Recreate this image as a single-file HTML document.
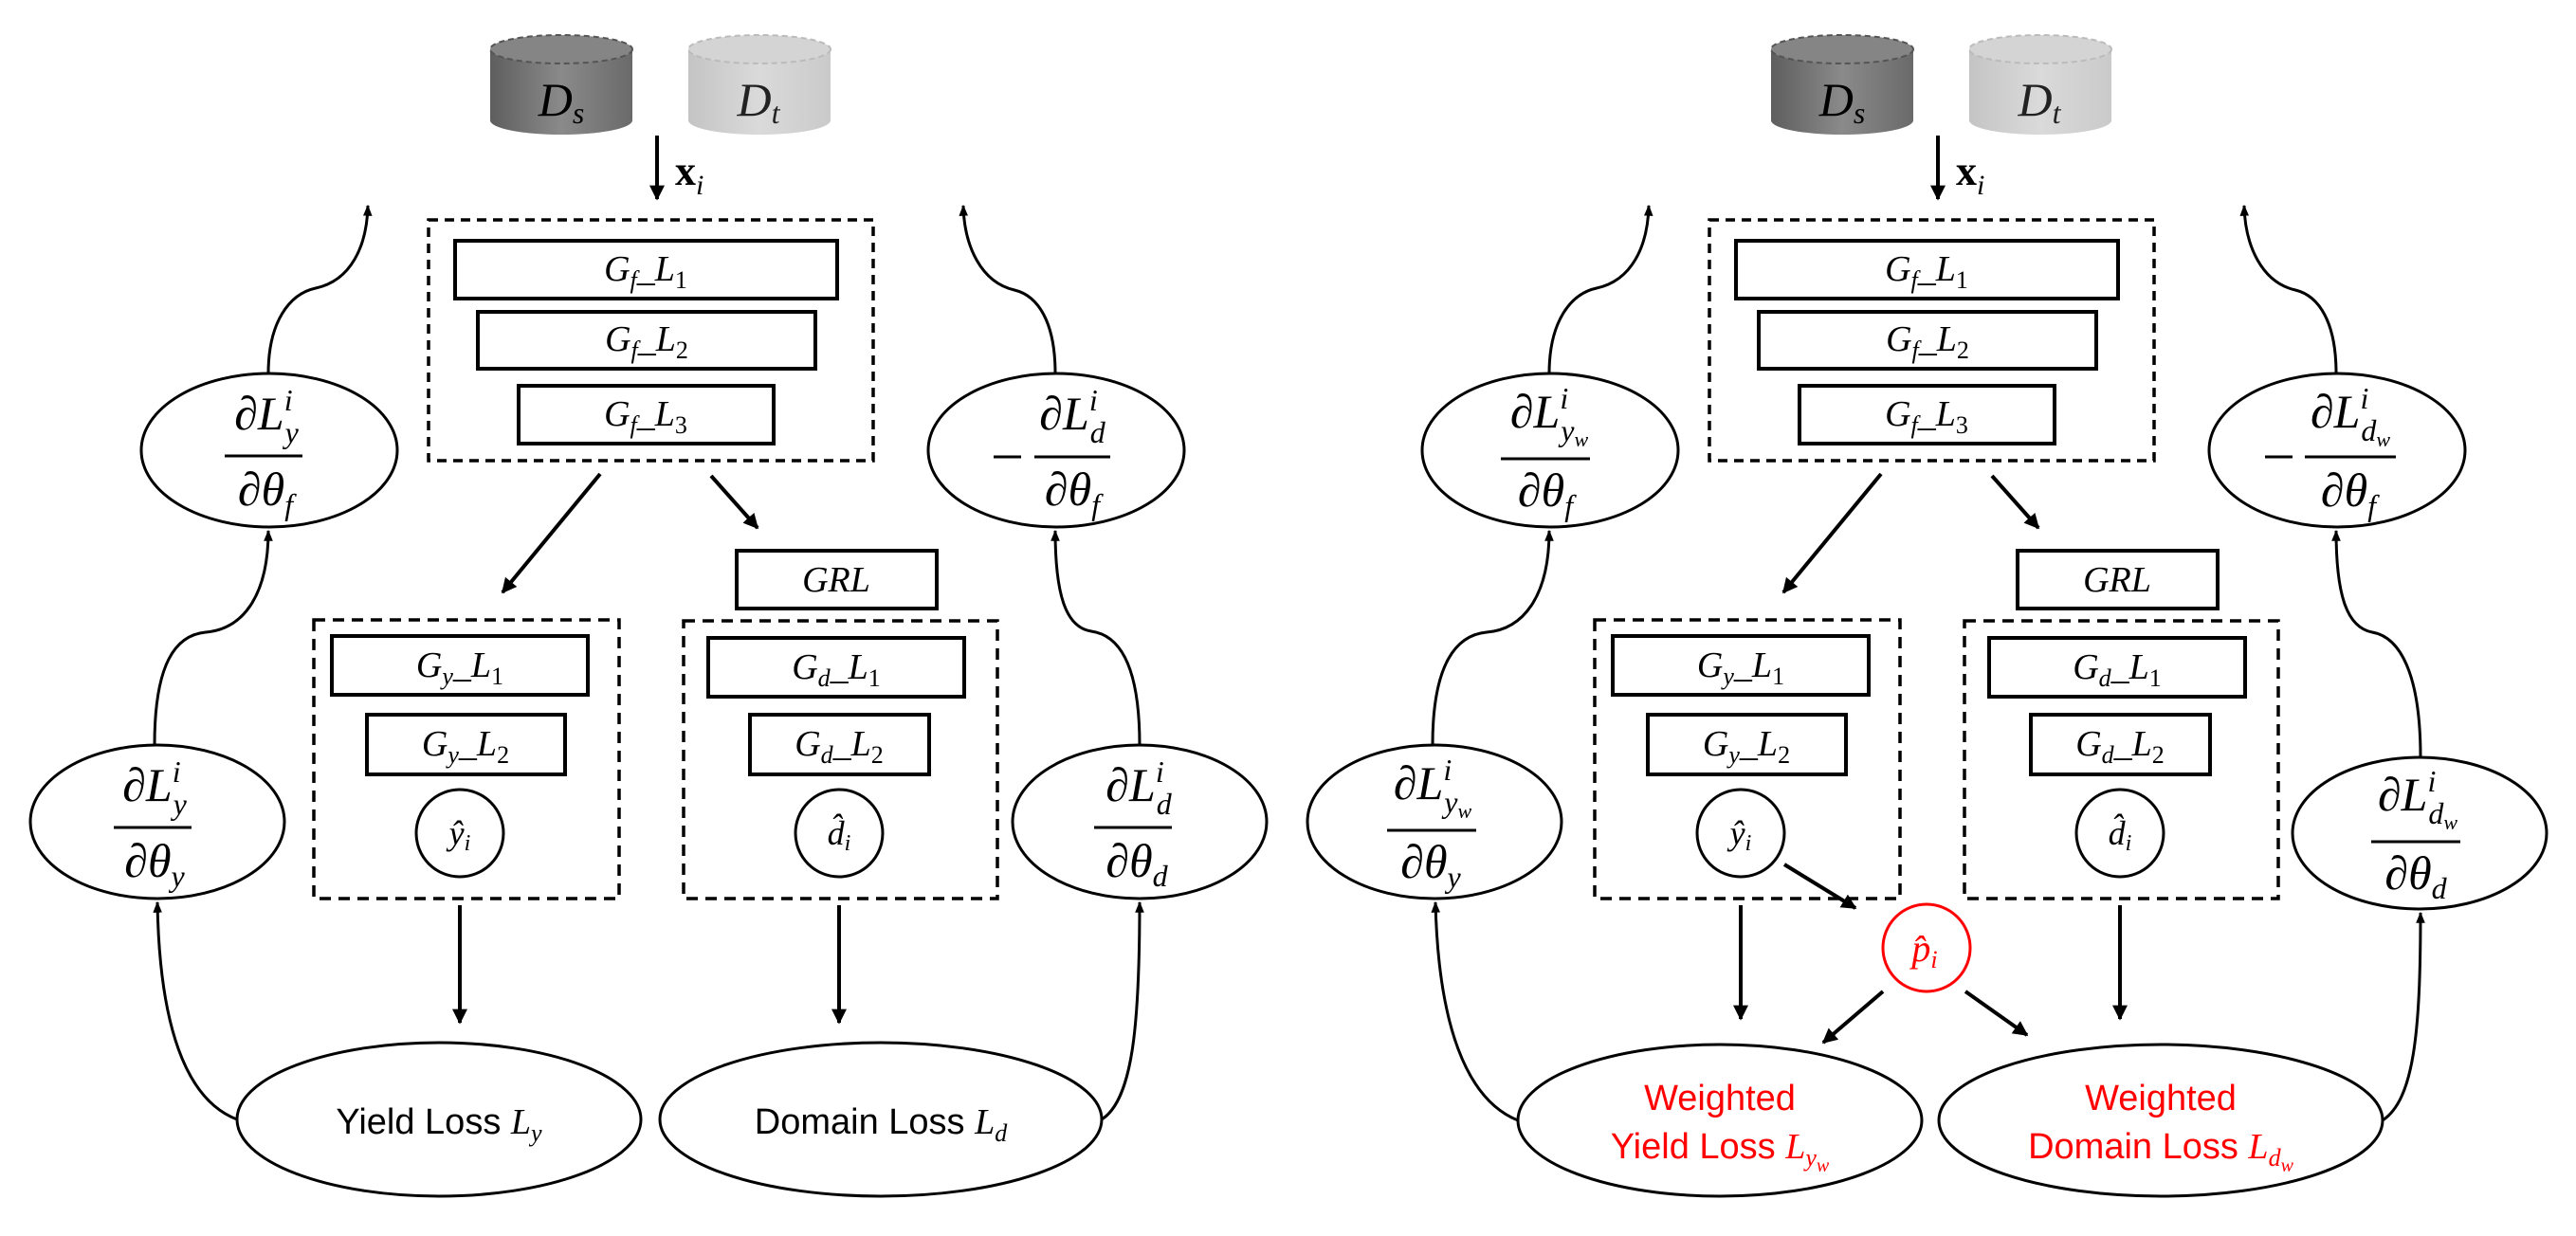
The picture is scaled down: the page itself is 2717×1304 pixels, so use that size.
<!DOCTYPE html>
<html><head><meta charset="utf-8"><style>
html,body{margin:0;padding:0;background:#fff;}
svg{display:block;}
.m{font-family:"Liberation Serif",serif;font-style:italic;}
.s{font-family:"Liberation Sans",sans-serif;}
</style></head><body>
<svg width="2717" height="1304" viewBox="0 0 2717 1304" xmlns="http://www.w3.org/2000/svg">
<defs>
<marker id="a" viewBox="0 0 10 10" refX="9" refY="5" markerWidth="4" markerHeight="4" orient="auto" markerUnits="strokeWidth"><path d="M0,0 L10,5 L0,10 z" fill="#000"/></marker>
<marker id="b" viewBox="0 0 10 10" refX="9" refY="5" markerWidth="4" markerHeight="4" orient="auto" markerUnits="strokeWidth"><path d="M0,1 L10,5 L0,9 z" fill="#000"/></marker>
<linearGradient id="gd" x1="0" x2="1"><stop offset="0" stop-color="#5e5e5e"/><stop offset="0.5" stop-color="#8a8a8a"/><stop offset="1" stop-color="#6a6a6a"/></linearGradient>
<linearGradient id="gl" x1="0" x2="1"><stop offset="0" stop-color="#c4c4c4"/><stop offset="0.5" stop-color="#dadada"/><stop offset="1" stop-color="#cacaca"/></linearGradient>
</defs>

<!-- ================= LEFT PANEL ================= -->
<g>
<path d="M517,52 L517,127 A75,15 0 0 0 667,127 L667,52 Z" fill="url(#gd)"/>
<ellipse cx="592" cy="52" rx="75" ry="15" fill="#858585" stroke="#555" stroke-width="2" stroke-dasharray="6,4"/>
<text x="592" y="122" class="m" font-size="50" text-anchor="middle">D<tspan font-size="32" dy="8">s</tspan></text>
<path d="M726,52 L726,127 A75,15 0 0 0 876,127 L876,52 Z" fill="url(#gl)"/>
<ellipse cx="801" cy="52" rx="75" ry="15" fill="#d4d4d4" stroke="#bbb" stroke-width="2" stroke-dasharray="6,4"/>
<text x="800" y="122" class="m" font-size="50" text-anchor="middle" fill="#222">D<tspan font-size="32" dy="8">t</tspan></text>
<line x1="693" y1="143" x2="693" y2="210" stroke="#000" stroke-width="4" marker-end="url(#a)"/>
<text x="712" y="195" font-family="Liberation Serif,serif" font-weight="bold" font-size="44">x<tspan class="m" font-weight="normal" font-size="30" dy="10">i</tspan></text>

<rect x="452" y="232" width="469" height="254" fill="none" stroke="#000" stroke-width="3.5" stroke-dasharray="10,7"/>
<rect x="480" y="254" width="403" height="61" fill="none" stroke="#000" stroke-width="4"/>
<text x="681" y="296" class="m" font-size="38" text-anchor="middle">G<tspan font-size="26" dy="8">f</tspan><tspan dy="-8">_L</tspan><tspan font-size="26" dy="8" font-style="normal">1</tspan></text>
<rect x="504" y="329" width="356" height="60" fill="none" stroke="#000" stroke-width="4"/>
<text x="682" y="370" class="m" font-size="38" text-anchor="middle">G<tspan font-size="26" dy="8">f</tspan><tspan dy="-8">_L</tspan><tspan font-size="26" dy="8" font-style="normal">2</tspan></text>
<rect x="547" y="407" width="269" height="61" fill="none" stroke="#000" stroke-width="4"/>
<text x="681" y="449" class="m" font-size="38" text-anchor="middle">G<tspan font-size="26" dy="8">f</tspan><tspan dy="-8">_L</tspan><tspan font-size="26" dy="8" font-style="normal">3</tspan></text>

<line x1="633" y1="500" x2="530" y2="625" stroke="#000" stroke-width="4" marker-end="url(#a)"/>
<line x1="750" y1="502" x2="799" y2="557" stroke="#000" stroke-width="4" marker-end="url(#a)"/>

<rect x="777" y="581" width="211" height="61" fill="none" stroke="#000" stroke-width="4"/>
<text x="882" y="624" class="m" font-size="38" text-anchor="middle">GRL</text>

<rect x="331" y="654" width="322" height="294" fill="none" stroke="#000" stroke-width="3.5" stroke-dasharray="12,8"/>
<rect x="350" y="671" width="270" height="62" fill="none" stroke="#000" stroke-width="4"/>
<text x="485" y="714" class="m" font-size="38" text-anchor="middle">G<tspan font-size="26" dy="8">y</tspan><tspan dy="-8">_L</tspan><tspan font-size="26" dy="8" font-style="normal">1</tspan></text>
<rect x="387" y="754" width="209" height="63" fill="none" stroke="#000" stroke-width="4"/>
<text x="491" y="797" class="m" font-size="38" text-anchor="middle">G<tspan font-size="26" dy="8">y</tspan><tspan dy="-8">_L</tspan><tspan font-size="26" dy="8" font-style="normal">2</tspan></text>
<circle cx="485" cy="879" r="46" fill="none" stroke="#000" stroke-width="3"/>
<text x="485" y="891" class="m" font-size="36" text-anchor="middle">ŷ<tspan font-size="24" dy="6">i</tspan></text>

<rect x="721" y="655" width="331" height="293" fill="none" stroke="#000" stroke-width="3.5" stroke-dasharray="12,8"/>
<rect x="747" y="673" width="270" height="62" fill="none" stroke="#000" stroke-width="4"/>
<text x="882" y="716" class="m" font-size="38" text-anchor="middle">G<tspan font-size="26" dy="8">d</tspan><tspan dy="-8">_L</tspan><tspan font-size="26" dy="8" font-style="normal">1</tspan></text>
<rect x="791" y="754" width="189" height="63" fill="none" stroke="#000" stroke-width="4"/>
<text x="885" y="797" class="m" font-size="38" text-anchor="middle">G<tspan font-size="26" dy="8">d</tspan><tspan dy="-8">_L</tspan><tspan font-size="26" dy="8" font-style="normal">2</tspan></text>
<circle cx="885" cy="879" r="46" fill="none" stroke="#000" stroke-width="3"/>
<text x="885" y="891" class="m" font-size="36" text-anchor="middle">d̂<tspan font-size="24" dy="6">i</tspan></text>

<line x1="485" y1="955" x2="485" y2="1079" stroke="#000" stroke-width="4" marker-end="url(#a)"/>
<line x1="885" y1="955" x2="885" y2="1079" stroke="#000" stroke-width="4" marker-end="url(#a)"/>

<ellipse cx="463" cy="1181" rx="213" ry="81" fill="none" stroke="#000" stroke-width="3"/>
<text x="463" y="1196" font-size="38" text-anchor="middle"><tspan class="s">Yield Loss </tspan><tspan class="m">L</tspan><tspan class="m" font-size="26" dy="8">y</tspan></text>
<ellipse cx="929" cy="1181" rx="233" ry="81" fill="none" stroke="#000" stroke-width="3"/>
<text x="929" y="1196" font-size="38" text-anchor="middle"><tspan class="s">Domain Loss </tspan><tspan class="m">L</tspan><tspan class="m" font-size="26" dy="8">d</tspan></text>

<ellipse cx="166" cy="867" rx="134" ry="81" fill="none" stroke="#000" stroke-width="3"/>
<text x="163" y="845" class="m" font-size="50" text-anchor="middle">∂L<tspan font-size="32" dy="-20">i</tspan><tspan font-size="32" dx="-8" dy="34">y</tspan></text>
<line x1="120" y1="873" x2="202" y2="873" stroke="#000" stroke-width="3"/>
<text x="163" y="925" class="m" font-size="50" text-anchor="middle">∂θ<tspan font-size="32" dy="10">y</tspan></text>

<ellipse cx="284" cy="475" rx="135" ry="81" fill="none" stroke="#000" stroke-width="3"/>
<text x="281" y="453" class="m" font-size="50" text-anchor="middle">∂L<tspan font-size="32" dy="-20">i</tspan><tspan font-size="32" dx="-8" dy="34">y</tspan></text>
<line x1="237" y1="481" x2="319" y2="481" stroke="#000" stroke-width="3"/>
<text x="280" y="533" class="m" font-size="50" text-anchor="middle">∂θ<tspan font-size="32" dy="10">f</tspan></text>

<ellipse cx="1114" cy="475" rx="135" ry="81" fill="none" stroke="#000" stroke-width="3"/>
<line x1="1048" y1="482" x2="1077" y2="482" stroke="#000" stroke-width="3"/>
<text x="1131" y="453" class="m" font-size="50" text-anchor="middle">∂L<tspan font-size="32" dy="-20">i</tspan><tspan font-size="32" dx="-8" dy="34">d</tspan></text>
<line x1="1091" y1="482" x2="1171" y2="482" stroke="#000" stroke-width="3"/>
<text x="1131" y="533" class="m" font-size="50" text-anchor="middle">∂θ<tspan font-size="32" dy="10">f</tspan></text>

<ellipse cx="1202" cy="867" rx="134" ry="81" fill="none" stroke="#000" stroke-width="3"/>
<text x="1201" y="845" class="m" font-size="50" text-anchor="middle">∂L<tspan font-size="32" dy="-20">i</tspan><tspan font-size="32" dx="-8" dy="34">d</tspan></text>
<line x1="1154" y1="873" x2="1236" y2="873" stroke="#000" stroke-width="3"/>
<text x="1199" y="925" class="m" font-size="50" text-anchor="middle">∂θ<tspan font-size="32" dy="10">d</tspan></text>

<g fill="none" stroke="#000" stroke-width="3">
<path d="M250,1181 C195,1160 168,1080 166,952" marker-end="url(#b)"/>
<path d="M163,786 C163,700 185,670 217,667 C255,664 283,630 283,560" marker-end="url(#b)"/>
<path d="M283,394 C283,340 305,310 333,304 C370,296 387,260 388,217" marker-end="url(#b)"/>
<path d="M1162,1181 C1195,1160 1202,1080 1202,952" marker-end="url(#b)"/>
<path d="M1202,786 C1202,700 1180,670 1151,666 C1125,662 1113,630 1113,560" marker-end="url(#b)"/>
<path d="M1113,394 C1113,340 1095,312 1070,306 C1035,298 1017,260 1016,217" marker-end="url(#b)"/>
</g>
</g>

<!-- ================= RIGHT PANEL ================= -->
<g transform="translate(1351,0)">
<path d="M517,52 L517,127 A75,15 0 0 0 667,127 L667,52 Z" fill="url(#gd)"/>
<ellipse cx="592" cy="52" rx="75" ry="15" fill="#858585" stroke="#555" stroke-width="2" stroke-dasharray="6,4"/>
<text x="592" y="122" class="m" font-size="50" text-anchor="middle">D<tspan font-size="32" dy="8">s</tspan></text>
<path d="M726,52 L726,127 A75,15 0 0 0 876,127 L876,52 Z" fill="url(#gl)"/>
<ellipse cx="801" cy="52" rx="75" ry="15" fill="#d4d4d4" stroke="#bbb" stroke-width="2" stroke-dasharray="6,4"/>
<text x="800" y="122" class="m" font-size="50" text-anchor="middle" fill="#222">D<tspan font-size="32" dy="8">t</tspan></text>
<line x1="693" y1="143" x2="693" y2="210" stroke="#000" stroke-width="4" marker-end="url(#a)"/>
<text x="712" y="195" font-family="Liberation Serif,serif" font-weight="bold" font-size="44">x<tspan class="m" font-weight="normal" font-size="30" dy="10">i</tspan></text>

<rect x="452" y="232" width="469" height="254" fill="none" stroke="#000" stroke-width="3.5" stroke-dasharray="10,7"/>
<rect x="480" y="254" width="403" height="61" fill="none" stroke="#000" stroke-width="4"/>
<text x="681" y="296" class="m" font-size="38" text-anchor="middle">G<tspan font-size="26" dy="8">f</tspan><tspan dy="-8">_L</tspan><tspan font-size="26" dy="8" font-style="normal">1</tspan></text>
<rect x="504" y="329" width="356" height="60" fill="none" stroke="#000" stroke-width="4"/>
<text x="682" y="370" class="m" font-size="38" text-anchor="middle">G<tspan font-size="26" dy="8">f</tspan><tspan dy="-8">_L</tspan><tspan font-size="26" dy="8" font-style="normal">2</tspan></text>
<rect x="547" y="407" width="269" height="61" fill="none" stroke="#000" stroke-width="4"/>
<text x="681" y="449" class="m" font-size="38" text-anchor="middle">G<tspan font-size="26" dy="8">f</tspan><tspan dy="-8">_L</tspan><tspan font-size="26" dy="8" font-style="normal">3</tspan></text>

<line x1="633" y1="500" x2="530" y2="625" stroke="#000" stroke-width="4" marker-end="url(#a)"/>
<line x1="750" y1="502" x2="799" y2="557" stroke="#000" stroke-width="4" marker-end="url(#a)"/>
<rect x="777" y="581" width="211" height="61" fill="none" stroke="#000" stroke-width="4"/>
<text x="882" y="624" class="m" font-size="38" text-anchor="middle">GRL</text>

<rect x="331" y="654" width="322" height="294" fill="none" stroke="#000" stroke-width="3.5" stroke-dasharray="12,8"/>
<rect x="350" y="671" width="270" height="62" fill="none" stroke="#000" stroke-width="4"/>
<text x="485" y="714" class="m" font-size="38" text-anchor="middle">G<tspan font-size="26" dy="8">y</tspan><tspan dy="-8">_L</tspan><tspan font-size="26" dy="8" font-style="normal">1</tspan></text>
<rect x="387" y="754" width="209" height="63" fill="none" stroke="#000" stroke-width="4"/>
<text x="491" y="797" class="m" font-size="38" text-anchor="middle">G<tspan font-size="26" dy="8">y</tspan><tspan dy="-8">_L</tspan><tspan font-size="26" dy="8" font-style="normal">2</tspan></text>
<circle cx="485" cy="879" r="46" fill="none" stroke="#000" stroke-width="3"/>
<text x="485" y="891" class="m" font-size="36" text-anchor="middle">ŷ<tspan font-size="24" dy="6">i</tspan></text>

<rect x="721" y="655" width="331" height="293" fill="none" stroke="#000" stroke-width="3.5" stroke-dasharray="12,8"/>
<rect x="747" y="673" width="270" height="62" fill="none" stroke="#000" stroke-width="4"/>
<text x="882" y="716" class="m" font-size="38" text-anchor="middle">G<tspan font-size="26" dy="8">d</tspan><tspan dy="-8">_L</tspan><tspan font-size="26" dy="8" font-style="normal">1</tspan></text>
<rect x="791" y="754" width="189" height="63" fill="none" stroke="#000" stroke-width="4"/>
<text x="885" y="797" class="m" font-size="38" text-anchor="middle">G<tspan font-size="26" dy="8">d</tspan><tspan dy="-8">_L</tspan><tspan font-size="26" dy="8" font-style="normal">2</tspan></text>
<circle cx="885" cy="879" r="46" fill="none" stroke="#000" stroke-width="3"/>
<text x="885" y="891" class="m" font-size="36" text-anchor="middle">d̂<tspan font-size="24" dy="6">i</tspan></text>

<line x1="485" y1="955" x2="485" y2="1075" stroke="#000" stroke-width="4" marker-end="url(#a)"/>
<line x1="885" y1="955" x2="885" y2="1075" stroke="#000" stroke-width="4" marker-end="url(#a)"/>

<circle cx="681" cy="1000" r="46" fill="none" stroke="#f00" stroke-width="3"/>
<text x="679" y="1014" class="m" font-size="40" text-anchor="middle" fill="#f00">p̂<tspan font-size="26" dy="7">i</tspan></text>
<line x1="531" y1="912" x2="606" y2="958" stroke="#000" stroke-width="4" marker-end="url(#a)"/>
<line x1="635" y1="1046" x2="572" y2="1100" stroke="#000" stroke-width="4" marker-end="url(#a)"/>
<line x1="722" y1="1046" x2="787" y2="1092" stroke="#000" stroke-width="4" marker-end="url(#a)"/>

<ellipse cx="463" cy="1182" rx="213" ry="80" fill="none" stroke="#000" stroke-width="3"/>
<text x="463" y="1171" class="s" font-size="38" text-anchor="middle" fill="#f00">Weighted</text>
<text x="463" y="1222" font-size="38" text-anchor="middle" fill="#f00"><tspan class="s">Yield Loss </tspan><tspan class="m">L</tspan><tspan class="m" font-size="26" dy="8">y</tspan><tspan class="m" font-size="20" dy="6">w</tspan></text>
<ellipse cx="928" cy="1182" rx="234" ry="80" fill="none" stroke="#000" stroke-width="3"/>
<text x="928" y="1171" class="s" font-size="38" text-anchor="middle" fill="#f00">Weighted</text>
<text x="928" y="1222" font-size="38" text-anchor="middle" fill="#f00"><tspan class="s">Domain Loss </tspan><tspan class="m">L</tspan><tspan class="m" font-size="26" dy="8">d</tspan><tspan class="m" font-size="20" dy="6">w</tspan></text>

<ellipse cx="162" cy="867" rx="134" ry="81" fill="none" stroke="#000" stroke-width="3"/>
<text x="160" y="843" class="m" font-size="50" text-anchor="middle">∂L<tspan font-size="32" dy="-20">i</tspan><tspan font-size="32" dx="-8" dy="34">y</tspan><tspan font-size="22" dy="6">w</tspan></text>
<line x1="112" y1="876" x2="206" y2="876" stroke="#000" stroke-width="3"/>
<text x="158" y="926" class="m" font-size="50" text-anchor="middle">∂θ<tspan font-size="32" dy="10">y</tspan></text>

<ellipse cx="284" cy="475" rx="135" ry="81" fill="none" stroke="#000" stroke-width="3"/>
<text x="283" y="451" class="m" font-size="50" text-anchor="middle">∂L<tspan font-size="32" dy="-20">i</tspan><tspan font-size="32" dx="-8" dy="34">y</tspan><tspan font-size="22" dy="6">w</tspan></text>
<line x1="232" y1="484" x2="326" y2="484" stroke="#000" stroke-width="3"/>
<text x="279" y="534" class="m" font-size="50" text-anchor="middle">∂θ<tspan font-size="32" dy="10">f</tspan></text>

<ellipse cx="1114" cy="475" rx="135" ry="81" fill="none" stroke="#000" stroke-width="3"/>
<line x1="1038" y1="482" x2="1067" y2="482" stroke="#000" stroke-width="3"/>
<text x="1128" y="451" class="m" font-size="50" text-anchor="middle">∂L<tspan font-size="32" dy="-20">i</tspan><tspan font-size="32" dx="-8" dy="34">d</tspan><tspan font-size="22" dy="6">w</tspan></text>
<line x1="1080" y1="482" x2="1176" y2="482" stroke="#000" stroke-width="3"/>
<text x="1126" y="534" class="m" font-size="50" text-anchor="middle">∂θ<tspan font-size="32" dy="10">f</tspan></text>

<ellipse cx="1201" cy="879" rx="134" ry="80" fill="none" stroke="#000" stroke-width="3"/>
<text x="1199" y="855" class="m" font-size="50" text-anchor="middle">∂L<tspan font-size="32" dy="-20">i</tspan><tspan font-size="32" dx="-8" dy="34">d</tspan><tspan font-size="22" dy="6">w</tspan></text>
<line x1="1150" y1="888" x2="1244" y2="888" stroke="#000" stroke-width="3"/>
<text x="1197" y="938" class="m" font-size="50" text-anchor="middle">∂θ<tspan font-size="32" dy="10">d</tspan></text>

<g fill="none" stroke="#000" stroke-width="3">
<path d="M250,1182 C195,1160 166,1080 163,952" marker-end="url(#b)"/>
<path d="M160,786 C160,700 185,670 217,667 C255,664 283,630 283,560" marker-end="url(#b)"/>
<path d="M283,394 C283,340 305,310 333,304 C370,296 387,260 388,217" marker-end="url(#b)"/>
<path d="M1162,1182 C1195,1160 1202,1090 1202,963" marker-end="url(#b)"/>
<path d="M1202,799 C1202,710 1180,672 1151,667 C1125,662 1113,630 1113,560" marker-end="url(#b)"/>
<path d="M1113,394 C1113,340 1095,312 1070,306 C1035,298 1017,260 1016,217" marker-end="url(#b)"/>
</g>
</g>
</svg>
</body></html>
